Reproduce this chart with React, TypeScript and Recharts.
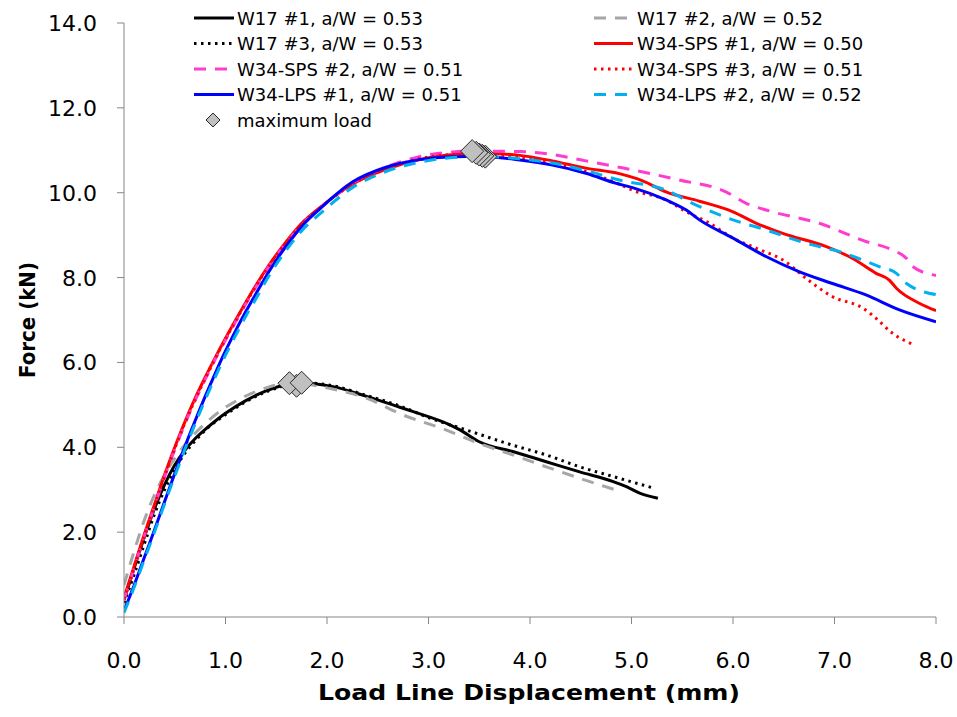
import * as React from 'react';
import { ComposedChart, Line, Scatter, XAxis, YAxis } from 'recharts';

type Pt = [number, number];

const xTicks = [0, 1, 2, 3, 4, 5, 6, 7, 8];
const yTicks = [0, 2, 4, 6, 8, 10, 12, 14];

// load line displacement (mm), force (kN)
const w17No1: Pt[] = [
  [0, 0.4], [0.1, 1.15], [0.2, 1.88], [0.3, 2.55], [0.4, 3.12], [0.5, 3.58], [0.6, 3.93],
  [0.7, 4.2], [0.8, 4.42], [0.9, 4.62], [1.0, 4.8], [1.2, 5.1], [1.4, 5.33], [1.55, 5.45],
  [1.7, 5.52], [2.06, 5.43], [2.39, 5.2], [2.71, 4.95], [2.85, 4.84], [3.21, 4.53], [3.31, 4.41],
  [3.5, 4.13], [3.83, 3.9], [4.16, 3.66], [4.49, 3.42], [4.82, 3.19], [4.95, 3.07], [5.08, 2.92],
  [5.26, 2.8],
];
const w17No2: Pt[] = [
  [0, 0.75], [0.1, 1.55], [0.2, 2.28], [0.3, 2.88], [0.4, 3.35], [0.5, 3.74], [0.6, 4.06],
  [0.7, 4.33], [0.8, 4.56], [0.95, 4.86], [1.12, 5.11], [1.4, 5.4], [1.65, 5.52], [2.0, 5.4],
  [2.4, 5.15], [2.71, 4.8], [3.17, 4.41], [3.5, 4.09], [3.83, 3.82], [4.16, 3.54], [4.49, 3.27],
  [4.85, 2.99],
];
const w17No3: Pt[] = [
  [0, 0.33], [0.1, 1.0], [0.2, 1.72], [0.3, 2.42], [0.4, 3.0], [0.5, 3.47], [0.6, 3.86],
  [0.7, 4.15], [0.8, 4.4], [1.05, 4.85], [1.3, 5.2], [1.55, 5.43], [1.75, 5.52], [2.06, 5.45],
  [2.39, 5.22], [2.71, 4.98], [3.0, 4.7], [3.37, 4.41], [3.83, 4.05], [4.16, 3.82], [4.49, 3.54],
  [4.82, 3.31], [5.23, 3.03],
];
const sps1: Pt[] = [
  [0, 0.45], [0.1, 1.2], [0.2, 1.95], [0.3, 2.65], [0.4, 3.35], [0.5, 4.0], [0.6, 4.6],
  [0.7, 5.15], [0.8, 5.65], [0.9, 6.12], [1.0, 6.57], [1.1, 7.0], [1.2, 7.42], [1.3, 7.82],
  [1.43, 8.3], [1.6, 8.85], [1.76, 9.3], [1.93, 9.65], [2.25, 10.2], [2.58, 10.55], [2.91, 10.78],
  [3.24, 10.9], [3.5, 10.93], [3.9, 10.88], [4.22, 10.75], [4.55, 10.58], [4.88, 10.45],
  [5.11, 10.28], [5.34, 10.02], [5.67, 9.8], [6.0, 9.55], [6.23, 9.28], [6.49, 9.04], [6.92, 8.73],
  [7.18, 8.45], [7.41, 8.1], [7.54, 7.94], [7.61, 7.75], [7.84, 7.39], [8.0, 7.22],
];
const sps2: Pt[] = [
  [0, 0.4], [0.1, 1.15], [0.2, 1.9], [0.3, 2.6], [0.4, 3.3], [0.5, 3.95], [0.6, 4.55],
  [0.7, 5.1], [0.8, 5.6], [0.9, 6.08], [1.0, 6.53], [1.1, 6.96], [1.2, 7.38], [1.3, 7.78],
  [1.43, 8.27], [1.6, 8.82], [1.76, 9.27], [1.93, 9.63], [2.25, 10.22], [2.58, 10.6],
  [2.91, 10.85], [3.24, 10.96], [3.45, 10.98], [3.9, 10.97], [4.22, 10.9], [4.55, 10.75],
  [4.88, 10.6], [5.47, 10.3], [5.93, 10.02], [6.13, 9.75], [6.39, 9.55], [6.85, 9.28],
  [7.31, 8.85], [7.57, 8.65], [7.71, 8.45], [7.77, 8.26], [8.0, 8.05],
];
const sps3: Pt[] = [
  [0, 0.42], [0.1, 1.17], [0.2, 1.92], [0.3, 2.62], [0.4, 3.32], [0.5, 3.97], [0.6, 4.57],
  [0.7, 5.12], [0.8, 5.62], [0.9, 6.1], [1.0, 6.55], [1.1, 6.98], [1.2, 7.4], [1.3, 7.8],
  [1.43, 8.28], [1.6, 8.83], [1.76, 9.28], [1.93, 9.64], [2.25, 10.2], [2.58, 10.56], [2.91, 10.8],
  [3.24, 10.9], [3.5, 10.92], [3.9, 10.83], [4.22, 10.7], [4.55, 10.5], [4.88, 10.2],
  [5.01, 10.06], [5.34, 9.83], [5.54, 9.55], [5.77, 9.28], [6.0, 8.93], [6.23, 8.69],
  [6.52, 8.37], [6.72, 7.98], [6.98, 7.55], [7.28, 7.28], [7.41, 7.04], [7.57, 6.69], [7.79, 6.41],
];
const lps1: Pt[] = [
  [0, 0.15], [0.1, 0.75], [0.2, 1.4], [0.3, 2.05], [0.4, 2.72], [0.5, 3.38], [0.6, 4.02],
  [0.7, 4.62], [0.8, 5.2], [0.9, 5.75], [1.0, 6.27], [1.1, 6.75], [1.2, 7.2], [1.3, 7.62],
  [1.43, 8.15], [1.6, 8.75], [1.76, 9.23], [1.93, 9.62], [2.25, 10.25], [2.58, 10.6],
  [2.91, 10.78], [3.24, 10.85], [3.5, 10.86], [3.9, 10.77], [4.22, 10.65], [4.55, 10.46],
  [4.85, 10.22], [5.01, 10.12], [5.34, 9.83], [5.54, 9.59], [5.67, 9.36], [6.0, 8.93],
  [6.33, 8.49], [6.65, 8.14], [6.98, 7.86], [7.31, 7.59], [7.64, 7.24], [8.0, 6.96],
];
const lps2: Pt[] = [
  [0, 0.1], [0.1, 0.7], [0.2, 1.35], [0.3, 2.0], [0.4, 2.67], [0.5, 3.32], [0.6, 3.95],
  [0.7, 4.55], [0.8, 5.12], [0.9, 5.66], [1.0, 6.17], [1.1, 6.64], [1.2, 7.09], [1.3, 7.5],
  [1.43, 8.05], [1.6, 8.65], [1.76, 9.13], [1.93, 9.5], [2.25, 10.12], [2.58, 10.5],
  [2.91, 10.72], [3.24, 10.83], [3.5, 10.86], [3.9, 10.8], [4.22, 10.7], [4.55, 10.52],
  [4.88, 10.3], [5.34, 10.06], [5.6, 9.75], [6.0, 9.36], [6.33, 9.12], [6.72, 8.81],
  [7.05, 8.61], [7.44, 8.26], [7.61, 8.1], [7.71, 7.86], [8.0, 7.6],
];

const maxLoadW17: Pt[] = [[1.7, 5.45], [1.63, 5.51], [1.75, 5.52]];
const maxLoadW34: Pt[] = [[3.56, 10.85], [3.53, 10.87], [3.5, 10.9], [3.47, 10.94], [3.43, 10.98]];

const series = [
  { name: 'W17 #1, a/W = 0.53', pts: w17No1, color: '#000000', dash: undefined as string | undefined },
  { name: 'W17 #2, a/W = 0.52', pts: w17No2, color: '#A6A6A6', dash: '12 9' },
  { name: 'W17 #3, a/W = 0.53', pts: w17No3, color: '#000000', dash: '2.5 4.5' },
  { name: 'W34-SPS #1, a/W = 0.50', pts: sps1, color: '#FF0000', dash: undefined },
  { name: 'W34-SPS #2, a/W = 0.51', pts: sps2, color: '#FF3CCF', dash: '12 9' },
  { name: 'W34-SPS #3, a/W = 0.51', pts: sps3, color: '#FF0000', dash: '2.5 4.5' },
  { name: 'W34-LPS #1, a/W = 0.51', pts: lps1, color: '#0000FF', dash: undefined },
  { name: 'W34-LPS #2, a/W = 0.52', pts: lps2, color: '#00B0F0', dash: '12 9' },
];

const toRows = (pts: Pt[]) => pts.map(([x, y]) => ({ x, y }));

const FONT = '"DejaVu Sans", sans-serif';
const AXIS = '#868686';

const Diamond = (props: any) => {
  const { cx, cy } = props;
  const r = 11.5;
  return (
    <polygon
      points={`${cx},${cy - r} ${cx + r},${cy} ${cx},${cy + r} ${cx - r},${cy}`}
      fill="#C0C0C0"
      stroke="#262626"
      strokeWidth={1}
    />
  );
};

const XTick = (props: any) => (
  <text x={props.x} y={668} textAnchor="middle" fontFamily={FONT} fontSize={22} fill="#000">
    {Number(props.payload.value).toFixed(1)}
  </text>
);

const YTick = (props: any) => (
  <text x={97} y={props.y + 8} textAnchor="end" fontFamily={FONT} fontSize={22} fill="#000">
    {Number(props.payload.value).toFixed(1)}
  </text>
);

const Overlay = () => {
  const rowY = (r: number) => 18 + r * 25.5;
  return (
    <svg
      width={957}
      height={717}
      style={{ position: 'absolute', left: 0, top: 0, pointerEvents: 'none' }}
    >
      {series.map((s, i) => {
        const col = i % 2;
        const y = rowY(Math.floor(i / 2));
        const x0 = col === 0 ? 194 : 594;
        const x1 = col === 0 ? 234 : 633;
        const tx = col === 0 ? 237 : 637;
        return (
          <g key={s.name}>
            <line x1={x0} y1={y} x2={x1} y2={y} stroke={s.color} strokeWidth={3} strokeDasharray={s.dash} />
            <text x={tx} y={y} dominantBaseline="central" fontFamily={FONT} fontSize={18} fill="#000">
              {s.name}
            </text>
          </g>
        );
      })}
      <polygon
        points={`213,${rowY(4) - 7} 220,${rowY(4)} 213,${rowY(4) + 7} 206,${rowY(4)}`}
        fill="#C0C0C0"
        stroke="#262626"
        strokeWidth={1}
      />
      <text x={237} y={rowY(4)} dominantBaseline="central" fontFamily={FONT} fontSize={18} fill="#000">
        maximum load
      </text>
      <text
        x={529}
        y={700}
        textAnchor="middle"
        fontFamily={FONT}
        fontWeight="bold"
        fontSize={21}
        textLength={422}
        lengthAdjust="spacingAndGlyphs"
        fill="#000"
      >
        Load Line Displacement (mm)
      </text>
      <text
        transform="translate(35,320) rotate(-90)"
        textAnchor="middle"
        fontFamily={FONT}
        fontWeight="bold"
        fontSize={21}
        textLength={116}
        lengthAdjust="spacingAndGlyphs"
        fill="#000"
      >
        Force (kN)
      </text>
    </svg>
  );
};

export default function App() {
  return (
    <div style={{ position: 'absolute', left: 0, top: 0, width: 957, height: 717, background: '#fff' }}>
      <ComposedChart width={957} height={717} margin={{ top: 23, right: 21, bottom: 0, left: 0 }}>
        <XAxis
          type="number"
          dataKey="x"
          domain={[0, 8]}
          ticks={xTicks}
          allowDataOverflow
          height={100}
          tickSize={7}
          tick={<XTick />}
          axisLine={{ stroke: AXIS }}
          tickLine={{ stroke: AXIS }}
        />
        <YAxis
          type="number"
          dataKey="y"
          domain={[0, 14]}
          ticks={yTicks}
          allowDataOverflow
          width={124}
          tickSize={7}
          tick={<YTick />}
          axisLine={{ stroke: AXIS }}
          tickLine={{ stroke: AXIS }}
        />
        {series.map((s) => (
          <Line
            key={s.name}
            data={toRows(s.pts)}
            dataKey="y"
            type="monotone"
            stroke={s.color}
            strokeWidth={3}
            strokeDasharray={s.dash}
            dot={false}
            activeDot={false}
            isAnimationActive={false}
          />
        ))}
        <Scatter data={toRows(maxLoadW17)} dataKey="y" shape={Diamond} isAnimationActive={false} />
        <Scatter data={toRows(maxLoadW34)} dataKey="y" shape={Diamond} isAnimationActive={false} />
      </ComposedChart>
      <Overlay />
    </div>
  );
}
